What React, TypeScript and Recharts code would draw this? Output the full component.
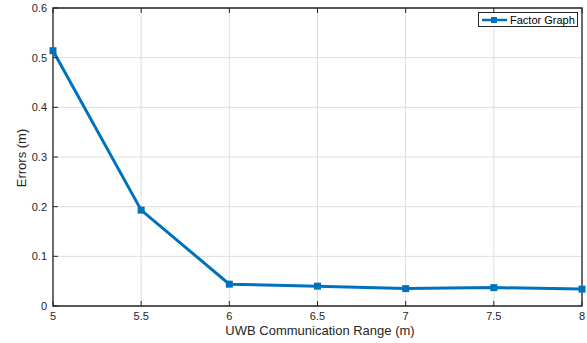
import { CartesianGrid, Line, LineChart, ReferenceArea, XAxis, YAxis } from "recharts";

const ranges = [5, 5.5, 6, 6.5, 7, 7.5, 8];
const errors = [0.514, 0.193, 0.044, 0.04, 0.035, 0.037, 0.034];
const xTicks = [5, 5.5, 6, 6.5, 7, 7.5, 8];
const yTicks = [0, 0.1, 0.2, 0.3, 0.4, 0.5, 0.6];

const data = ranges.map((r, i) => ({ range: r, error: errors[i] }));

const FONT = "'Liberation Sans', Arial, sans-serif";
const DARK = "#262626";
const BLUE = "#0072BD";

const BottomTick = (props: any) => {
  const { x, y, payload } = props;
  return (
    <g>
      <line x1={x} y1={y} x2={x} y2={y - 5} stroke={DARK} />
      <text x={x} y={y + 14} textAnchor="middle" fill={DARK} fontSize={11} fontFamily={FONT}>
        {payload.value}
      </text>
    </g>
  );
};

const TopTick = (props: any) => {
  const { x, y } = props;
  return <line x1={x} y1={y} x2={x} y2={y + 5} stroke={DARK} />;
};

const LeftTick = (props: any) => {
  const { x, y, payload } = props;
  return (
    <g>
      <line x1={x} y1={y} x2={x + 5} y2={y} stroke={DARK} />
      <text x={x - 6} y={y + 4} textAnchor="end" fill={DARK} fontSize={11} fontFamily={FONT}>
        {payload.value}
      </text>
    </g>
  );
};

const RightTick = (props: any) => {
  const { x, y } = props;
  return <line x1={x} y1={y} x2={x - 5} y2={y} stroke={DARK} />;
};

const Square = (props: any) => {
  const { cx, cy } = props;
  return <rect x={cx - 3.5} y={cy - 3.5} width={7} height={7} fill={BLUE} />;
};

export default function App() {
  return (
    <div style={{ position: "absolute", left: 0, top: 0, width: 587, height: 343, background: "#fff" }}>
      <LineChart
        width={587}
        height={343}
        data={data}
        margin={{ top: 7, right: 4, bottom: 7, left: 8 }}
        style={{ overflow: "visible" }}
      >
        <CartesianGrid stroke="#dedede" strokeWidth={1} />
        <XAxis
          dataKey="range"
          type="number"
          domain={[5, 8]}
          ticks={xTicks}
          height={30}
          tickSize={0}
          tickMargin={0}
          tickLine={false}
          axisLine={false}
          tick={<BottomTick />}
          interval={0}
        />
        <XAxis
          xAxisId="top"
          orientation="top"
          dataKey="range"
          type="number"
          domain={[5, 8]}
          ticks={xTicks}
          height={1}
          tickSize={0}
          tickMargin={0}
          tickLine={false}
          axisLine={false}
          tick={<TopTick />}
          interval={0}
        />
        <YAxis
          type="number"
          domain={[0, 0.6]}
          ticks={yTicks}
          width={45}
          tickSize={0}
          tickMargin={0}
          tickLine={false}
          axisLine={false}
          tick={<LeftTick />}
          interval={0}
        />
        <YAxis
          yAxisId="right"
          orientation="right"
          type="number"
          domain={[0, 0.6]}
          ticks={yTicks}
          width={1}
          tickSize={0}
          tickMargin={0}
          tickLine={false}
          axisLine={false}
          tick={<RightTick />}
          interval={0}
        />
        <ReferenceArea
          x1={5}
          x2={8}
          y1={0}
          y2={0.6}
          fill="#ffffff"
          fillOpacity={0}
          stroke={DARK}
          strokeOpacity={1}
          strokeWidth={1.3}
          ifOverflow="visible"
        />
        <Line
          type="linear"
          dataKey="error"
          stroke={BLUE}
          strokeWidth={3}
          dot={<Square />}
          activeDot={false}
          isAnimationActive={false}
        />
      </LineChart>
      <div
        style={{
          position: "absolute",
          top: 12,
          left: 478,
          border: `1px solid ${DARK}`,
          background: "#fff",
          display: "flex",
          alignItems: "center",
          height: 13,
          padding: "0 2px",
          fontFamily: FONT,
          fontSize: 11,
          color: "#000",
          whiteSpace: "nowrap",
        }}
      >
        <svg width={27} height={10}>
          <line x1={1} y1={5} x2={26} y2={5} stroke={BLUE} strokeWidth={2.5} />
          <rect x={10} y={2} width={6} height={6} fill={BLUE} />
        </svg>
        <span style={{ marginLeft: 2 }}>Factor Graph</span>
      </div>
      <div
        style={{
          position: "absolute",
          left: 320,
          top: 323,
          transform: "translateX(-50%)",
          fontFamily: FONT,
          fontSize: 13,
          color: DARK,
          whiteSpace: "nowrap",
        }}
      >
        UWB Communication Range (m)
      </div>
      <div
        style={{
          position: "absolute",
          left: 21,
          top: 158,
          transform: "translate(-50%, -50%) rotate(-90deg)",
          fontFamily: FONT,
          fontSize: 13,
          color: DARK,
          whiteSpace: "nowrap",
        }}
      >
        Errors (m)
      </div>
    </div>
  );
}
